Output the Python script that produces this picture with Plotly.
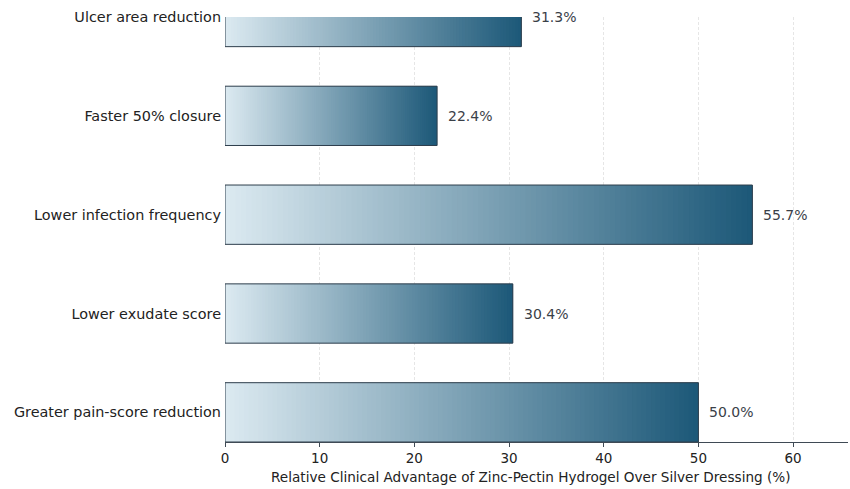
import plotly.graph_objects as go

categories = ["Greater pain-score reduction", "Lower exudate score", "Lower infection frequency",
              "Faster 50% closure", "Ulcer area reduction"]
values = [50.0, 30.4, 55.7, 22.4, 31.3]
x_ticks = [0, 10, 20, 30, 40, 50, 60]
x_title = "Relative Clinical Advantage of Zinc-Pectin Hydrogel Over Silver Dressing (%)"

c0 = (220, 234, 241)
c1 = (28, 88, 120)
N = 100

fig = go.Figure()
for j in range(N):
    t = (j + 0.5) / N
    col = "rgb({},{},{})".format(*[round(a + (b - a) * t) for a, b in zip(c0, c1)])
    w = 1.0 if j == N - 1 else 2.0
    fig.add_trace(go.Bar(
        y=categories, x=[v / N * w for v in values], base=[v * j / N for v in values],
        orientation="h", width=0.6, marker=dict(color=col, line=dict(width=0)),
        showlegend=False, hoverinfo="skip"))
fig.add_trace(go.Bar(
    y=categories, x=values, orientation="h", width=0.6,
    marker=dict(color="rgba(0,0,0,0)", line=dict(width=1, color="#2e3e4c")),
    showlegend=False, hoverinfo="skip"))

for c, v in zip(categories, values):
    fig.add_annotation(x=v, y=c, text=f"{v:.1f}%", xanchor="left", xshift=9, showarrow=False,
                       font=dict(family="DejaVu Sans", size=14, color="#3a4048"))

fig.add_annotation(x=0.4904, y=-0.0824, xref="paper", yref="paper", text=x_title, showarrow=False,
                   xanchor="center", yanchor="middle", font=dict(family="DejaVu Sans", size=13.6, color="#222222"))

fig.update_layout(
    width=850, height=489, barmode="overlay", plot_bgcolor="white", paper_bgcolor="white",
    margin=dict(l=225, r=2, t=17, b=47),
    font=dict(family="DejaVu Sans", size=14, color="#222222"),
    xaxis=dict(range=[0, 65.8], tickvals=x_ticks, showgrid=True, gridcolor="#e6e6e6", griddash="3px,2px",
               gridwidth=1, zeroline=False, showline=True, linecolor="#3f4a55", linewidth=1,
               ticks="outside", ticklen=4, tickcolor="#3f4a55", tickfont=dict(size=13.5)),
    yaxis=dict(range=[-0.3, 4.0], showgrid=False, zeroline=False, showline=False, ticks="",
               ticklabelstandoff=3, tickfont=dict(size=14.4)),
)
fig.write_html("out.html")
